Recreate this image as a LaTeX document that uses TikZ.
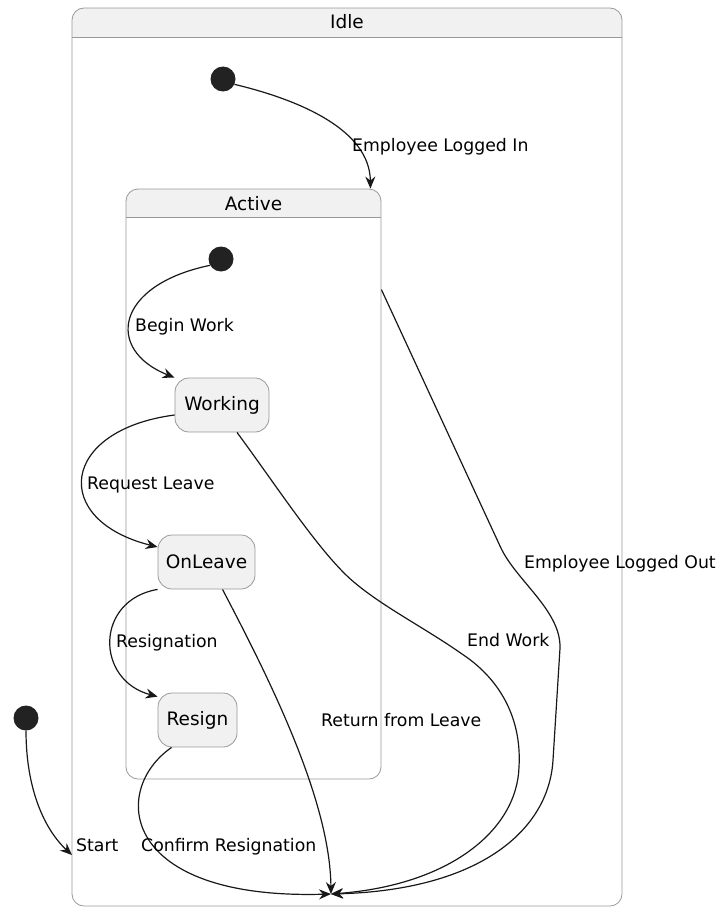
\documentclass[tikz,border=0pt]{standalone}
\usepackage{fontspec}
\setmainfont{DejaVu Sans}
\usetikzlibrary{arrows.meta}

\definecolor{linegray}{HTML}{181818}
\definecolor{boxgray}{HTML}{999999}
\definecolor{statefill}{HTML}{F1F1F1}
\definecolor{dotfill}{HTML}{222222}

\tikzset{
  composite/.style={draw=boxgray, line width=0.8pt, rounded corners=12pt, inner sep=0pt,
    path picture={
      \fill[statefill, sharp corners] (path picture bounding box.north west) rectangle ([yshift=-#1]path picture bounding box.north east);
      \draw[boxgray, line width=0.8pt, sharp corners] ([yshift=-#1]path picture bounding box.north west) -- ([yshift=-#1]path picture bounding box.north east);
    }},
  simplestate/.style={draw=boxgray, line width=0.8pt, fill=statefill, rounded corners=14pt,
    minimum height=54pt, inner sep=0pt, font=\fontsize{18.5}{22}\selectfont},
  titletext/.style={inner sep=0pt, font=\fontsize{18.5}{22}\selectfont},
  initdot/.style={circle, fill=dotfill, minimum size=25pt, inner sep=0pt},
  trans/.style={draw=linegray, line width=1.2pt, -{Stealth[length=12pt,width=10pt,inset=4pt]}},
  translabel/.style={anchor=base west, inner sep=0pt, font=\fontsize{17.3}{20}\selectfont}
}

\begin{document}
\begin{tikzpicture}[x=1pt,y=-1pt]
  \useasboundingbox (0,0) rectangle (719,907);

  % composite states
  \node[composite=29pt, minimum width=550pt, minimum height=898pt] (idle) at (347,457) {};
  \node[titletext] (idletitle) at (347,22) {Idle};
  \node[composite=28pt, minimum width=255pt, minimum height=590pt] (active) at (253.5,484) {};
  \node[titletext] (activetitle) at (253.5,204) {Active};

  % initial states
  \node[initdot] (idleinit) at (223,79) {};
  \node[initdot] (activeinit) at (221,259) {};
  \node[initdot] (startinit) at (26,718) {};

  % simple states
  \node[simplestate, minimum width=94pt] (working) at (222,405) {Working};
  \node[simplestate, minimum width=97pt] (onleave) at (206.5,562) {OnLeave};
  \node[simplestate, minimum width=79pt] (resign) at (197.5,720) {Resign};

  \coordinate (idleentry) at (72,855);
  \coordinate (sink) at (331,894);

  % transitions
  \draw[trans] (idleinit.-25) .. controls (300,100) and (370,130) .. ([xshift=-11pt]active.north east);
  \draw[trans] (activeinit.210) .. controls (115,285) and (105,350) .. (working.north west);
  \draw[trans] ([yshift=-10pt]working.west) .. controls (60,430) and (50,520) .. ([yshift=15pt]onleave.west);
  \draw[trans] (onleave.south west) .. controls (95,600) and (95,680) .. ([yshift=-4pt]resign.north west);
  \draw[trans] (startinit.south) .. controls (26,790) and (45,830) .. (idleentry);
  \draw[trans] ([xshift=14pt]resign.south west) .. controls (110,790) and (120,900) .. (sink);
  \draw[trans] ([xshift=16pt]onleave.south) .. controls (270,680) and (330,800) .. (sink);
  \draw[trans] ([xshift=15pt]working.south) .. controls (278,488) and (322,556) .. (355,583)
    .. controls (385,608) and (425,628) .. (462,654)
    .. controls (497,677) and (522,715) .. (519,767)
    .. controls (517,830) and (450,885) .. (sink);
  \draw[trans] ([yshift=-101pt]active.north east) -- (500,546)
    .. controls (515,580) and (561,610) .. (560,648) -- (553,760)
    .. controls (549,830) and (480,890) .. (sink);

  % transition labels
  \node[translabel] (lblloggedin) at (352,151) {Employee Logged In};
  \node[translabel] (lblbegin) at (135,331) {Begin Work};
  \node[translabel] (lblrequest) at (87,489) {Request Leave};
  \node[translabel] (lblresignation) at (116,647) {Resignation};
  \node[translabel] (lblstart) at (76,851) {Start};
  \node[translabel] (lblconfirm) at (141,851) {Confirm Resignation};
  \node[translabel] (lblreturn) at (321,726) {Return from Leave};
  \node[translabel] (lblendwork) at (467,646) {End Work};
  \node[translabel] (lblloggedout) at (524,568) {Employee Logged Out};
\end{tikzpicture}
\end{document}
